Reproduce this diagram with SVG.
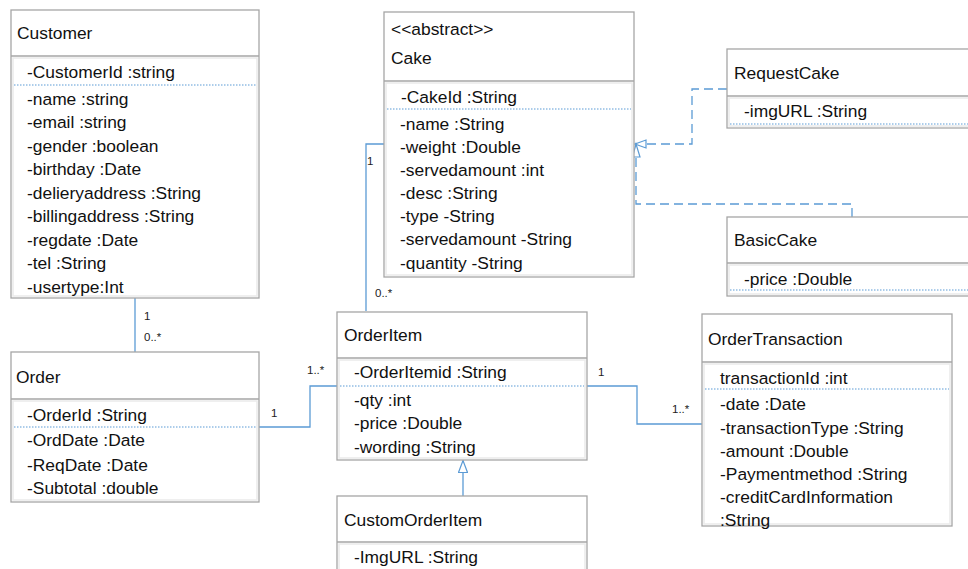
<svg xmlns="http://www.w3.org/2000/svg" width="968" height="569" viewBox="0 0 968 569">
<style>
.box{fill:#fff;stroke:#a6a6a6;stroke-width:1.3}
.div{stroke:#a6a6a6;stroke-width:1.3}
.inner{fill:none;stroke:#ececec;stroke-width:1.6}
.dot{stroke:#5b9bd5;stroke-width:1;stroke-dasharray:1.5 1.5}
.t{font-family:"Liberation Sans",Arial,sans-serif;font-size:17.4px;fill:#111}
.m{font-family:"Liberation Sans",Arial,sans-serif;font-size:11.5px;fill:#222}
.c{fill:none;stroke:#5b9bd5;stroke-width:1.3}
.d{fill:none;stroke:#5b9bd5;stroke-width:1.3;stroke-dasharray:9 5}
</style>
<defs>
<marker id="tri" viewBox="0 0 13 10" refX="12.5" refY="5" markerWidth="13" markerHeight="10" markerUnits="userSpaceOnUse" orient="auto">
<path d="M12.5,5 L0.5,0.5 L0.5,9.5 Z" fill="#fff" stroke="#5b9bd5" stroke-width="1.2"/>
</marker>
</defs>
<rect width="968" height="569" fill="#fff"/>

<g id="connectors">
<path class="c" d="M135,298 V352"/>
<path class="c" d="M259,427 H310 V386 H337"/>
<path class="c" d="M366,311 V144 H384"/>
<path class="c" d="M587,386 H637 V424 H702"/>
<path class="c" d="M463,496 V460.5" marker-end="url(#tri)"/>
<path class="d" d="M727,89 H692 V144 H635"/>
<path class="d" d="M852,217 V204 H636 V144"/>
<path d="M635,144 L646,140 L646,148 Z" fill="#fff" stroke="#5b9bd5" stroke-width="1.2"/>
<path d="M636,144 L632.5,157 L640,157 Z" fill="#fff" stroke="#5b9bd5" stroke-width="1.2"/>
<text class="m" x="144" y="320">1</text>
<text class="m" x="144" y="341">0..*</text>
<text class="m" x="271" y="417">1</text>
<text class="m" x="307" y="374">1..*</text>
<text class="m" x="367" y="165">1</text>
<text class="m" x="375" y="297">0..*</text>
<text class="m" x="598" y="376">1</text>
<text class="m" x="672" y="413">1..*</text>
</g>

<g id="Customer">
<rect class="box" x="11" y="10" width="248" height="288"/>
<rect class="inner" x="13" y="58" width="244" height="238"/>
<line class="div" x1="11" y1="56" x2="259" y2="56"/>
<line class="dot" x1="14" y1="85" x2="256" y2="85"/>
<text class="t" x="17" y="39">Customer</text>
<text class="t" x="27" y="78">-CustomerId :string</text>
<text class="t" x="27" y="104.5">-name :string</text>
<text class="t" x="27" y="128">-email :string</text>
<text class="t" x="27" y="151.5">-gender :boolean</text>
<text class="t" x="27" y="175">-birthday :Date</text>
<text class="t" x="27" y="198.5">-delieryaddress :String</text>
<text class="t" x="27" y="222">-billingaddress :String</text>
<text class="t" x="27" y="245.5">-regdate :Date</text>
<text class="t" x="27" y="269">-tel :String</text>
<text class="t" x="27" y="292.5">-usertype:Int</text>
</g>

<g id="Order">
<rect class="box" x="11" y="352" width="248" height="150"/>
<rect class="inner" x="13" y="401" width="244" height="99"/>
<line class="div" x1="11" y1="399" x2="259" y2="399"/>
<line class="dot" x1="14" y1="427" x2="256" y2="427"/>
<text class="t" x="16" y="383">Order</text>
<text class="t" x="27" y="421">-OrderId :String</text>
<text class="t" x="27" y="446">-OrdDate :Date</text>
<text class="t" x="27" y="470.5">-ReqDate :Date</text>
<text class="t" x="27" y="494">-Subtotal :double</text>
</g>

<g id="Cake">
<rect class="box" x="384" y="12" width="250" height="265"/>
<rect class="inner" x="386" y="83" width="246" height="192"/>
<line class="div" x1="384" y1="81" x2="634" y2="81"/>
<line class="dot" x1="387" y1="109" x2="631" y2="109"/>
<text class="t" x="391" y="35">&lt;&lt;abstract&gt;&gt;</text>
<text class="t" x="391" y="64">Cake</text>
<text class="t" x="401" y="102.5">-CakeId :String</text>
<text class="t" x="400" y="130">-name :String</text>
<text class="t" x="400" y="152.5">-weight :Double</text>
<text class="t" x="400" y="176">-servedamount :int</text>
<text class="t" x="400" y="199">-desc :String</text>
<text class="t" x="400" y="222">-type -String</text>
<text class="t" x="400" y="245">-servedamount -String</text>
<text class="t" x="400" y="269">-quantity -String</text>
</g>

<g id="RequestCake">
<rect class="box" x="727" y="49" width="260" height="79"/>
<rect class="inner" x="729" y="98" width="256" height="28"/>
<line class="div" x1="727" y1="96" x2="987" y2="96"/>
<line class="dot" x1="730" y1="124" x2="968" y2="124"/>
<text class="t" x="734" y="79">RequestCake</text>
<text class="t" x="744" y="117">-imgURL :String</text>
</g>

<g id="BasicCake">
<rect class="box" x="727" y="217" width="260" height="79"/>
<rect class="inner" x="729" y="265" width="256" height="29"/>
<line class="div" x1="727" y1="263" x2="987" y2="263"/>
<line class="dot" x1="730" y1="290" x2="968" y2="290"/>
<text class="t" x="734" y="246">BasicCake</text>
<text class="t" x="744" y="285">-price :Double</text>
</g>

<g id="OrderItem">
<rect class="box" x="337" y="312" width="250" height="148"/>
<rect class="inner" x="339" y="360" width="246" height="98"/>
<line class="div" x1="337" y1="358" x2="587" y2="358"/>
<line class="dot" x1="340" y1="386" x2="584" y2="386"/>
<text class="t" x="344" y="341">OrderItem</text>
<text class="t" x="354" y="378">-OrderItemid :String</text>
<text class="t" x="354" y="406">-qty :int</text>
<text class="t" x="354" y="429">-price :Double</text>
<text class="t" x="354" y="453">-wording :String</text>
</g>

<g id="CustomOrderItem">
<rect class="box" x="337" y="496" width="250" height="90"/>
<rect class="inner" x="339" y="544" width="246" height="40"/>
<line class="div" x1="337" y1="542" x2="587" y2="542"/>
<text class="t" x="344" y="526">CustomOrderItem</text>
<text class="t" x="354" y="563">-ImgURL :String</text>
</g>

<g id="OrderTransaction">
<rect class="box" x="702" y="314" width="250" height="212"/>
<rect class="inner" x="704" y="364" width="246" height="160"/>
<line class="div" x1="702" y1="362" x2="952" y2="362"/>
<line class="dot" x1="705" y1="389" x2="949" y2="389"/>
<text class="t" x="708" y="345">OrderTransaction</text>
<text class="t" x="720" y="384">transactionId :int</text>
<text class="t" x="720" y="410">-date :Date</text>
<text class="t" x="720" y="433.5">-transactionType :String</text>
<text class="t" x="720" y="456.5">-amount :Double</text>
<text class="t" x="720" y="479.5">-Paymentmethod :String</text>
<text class="t" x="720" y="502.5">-creditCardInformation</text>
<text class="t" x="720" y="526">:String</text>
</g>
</svg>
